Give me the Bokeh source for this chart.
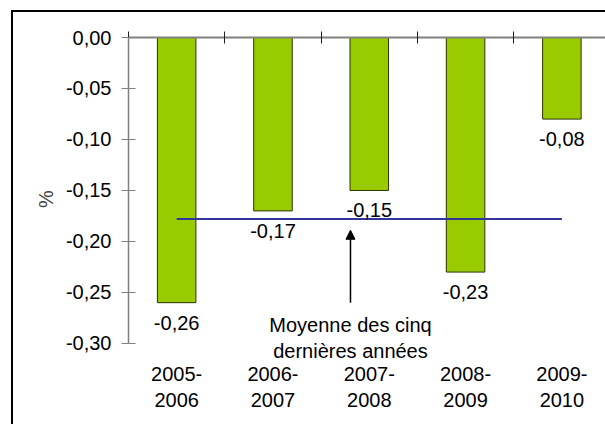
import numpy as np
from bokeh.plotting import figure
from bokeh.models import (Range1d, FixedTicker, CustomJSTickFormatter, LinearAxis,
                          ColumnDataSource, Arrow, NormalHead, Label)
from bokeh.core.properties import value
from bokeh.embed import file_html
from bokeh.resources import INLINE

categories = ["2005-\n2006", "2006-\n2007", "2007-\n2008", "2008-\n2009", "2009-\n2010"]
values = [-0.26, -0.17, -0.15, -0.23, -0.08]
value_labels = ["-0,26", "-0,17", "-0,15", "-0,23", "-0,08"]
y_ticks = [0.0, -0.05, -0.10, -0.15, -0.20, -0.25, -0.30]
mean_value = float(np.mean(values))
annotation_text = "Moyenne des cinq\ndernières années"
y_title = "%"

FONT = "Liberation Sans"
FS = "20px"

x = [i + 0.5 for i in range(len(values))]
src = ColumnDataSource(dict(x=x, v=values, lab=value_labels))

p = figure(width=592, height=412, output_backend="svg", toolbar_location=None,
           x_range=Range1d(0, 4.953), y_range=Range1d(-0.3167, 0.0),
           x_axis_location=None, y_axis_location=None,
           min_border_left=115, min_border_right=0, min_border_top=25,
           min_border_bottom=64)
p.outline_line_color = None
p.xgrid.grid_line_color = None
p.ygrid.grid_line_color = None
p.margin = (12, 0, 0, 13)
p.styles = {"outline": "2px solid black", "box-shadow": "-2px -2px 0px 0px black"}

# top axis (zero line with category separators)
top = LinearAxis(ticker=FixedTicker(ticks=list(range(len(values) + 1))),
                 formatter=CustomJSTickFormatter(code="return ''"))
top.axis_line_color = "#808080"
top.axis_line_width = 2
top.major_tick_line_color = "#202020"
top.major_tick_in = 6
top.major_tick_out = 6
top.minor_tick_line_color = None
top.major_label_text_font_size = "1px"
p.add_layout(top, "above")

# bottom category labels
bottom = LinearAxis(ticker=FixedTicker(ticks=x),
                    major_label_overrides={xi: c for xi, c in zip(x, categories)})
bottom.axis_line_color = None
bottom.major_tick_line_color = None
bottom.minor_tick_line_color = None
bottom.major_tick_in = 0
bottom.major_tick_out = 0
bottom.major_label_standoff = 2
bottom.major_label_text_font = FONT
bottom.major_label_text_font_size = FS
bottom.major_label_text_color = "black"
p.add_layout(bottom, "below")

# left axis
left = LinearAxis(ticker=FixedTicker(ticks=y_ticks), bounds=(y_ticks[-1], y_ticks[0]),
                  formatter=CustomJSTickFormatter(code="return tick.toFixed(2).replace('.', ',')"),
                  axis_label=y_title)
left.axis_line_color = "#808080"
left.axis_line_width = 1.5
left.major_tick_line_color = "#808080"
left.major_tick_in = 7
left.major_tick_out = 7
left.minor_tick_line_color = None
left.major_label_standoff = 10
left.major_label_text_font = FONT
left.major_label_text_font_size = FS
left.major_label_text_color = "black"
left.axis_label_text_font = FONT
left.axis_label_text_font_size = FS
left.axis_label_text_font_style = "normal"
left.axis_label_standoff = 6
p.add_layout(left, "left")

p.vbar(x="x", top="v", bottom=0, width=0.4, source=src,
       fill_color="#99CC00", line_color="#2b3300", line_width=1)

p.line(x=[x[0], x[-1]], y=[mean_value, mean_value], line_color="#333399", line_width=2)

p.text(x="x", y="v", text="lab", source=src, text_align="center",
       text_baseline="middle", y_offset=20, text_font=value(FONT),
       text_font_size=FS, text_color="black")

arrow_x = 2.305
p.add_layout(Arrow(end=NormalHead(size=9, fill_color="black", line_color="black"),
                   x_start=arrow_x, y_start=-0.26, x_end=arrow_x, y_end=mean_value - 0.011,
                   line_color="black", line_width=1.5))

p.add_layout(Label(x=arrow_x, y=-0.2946, text=annotation_text, text_align="center",
                   text_baseline="middle", text_font=FONT, text_font_size=FS,
                   text_color="black"))

open("out.html", "w").write(file_html(p, INLINE))
